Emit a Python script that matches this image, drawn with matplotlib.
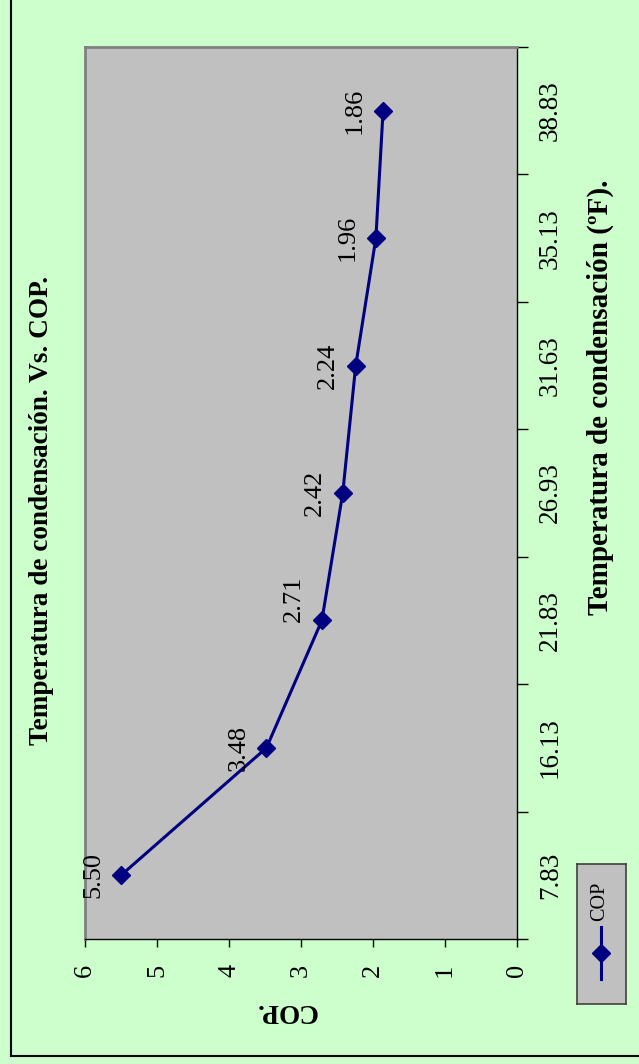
import numpy as np
import matplotlib
matplotlib.use("Agg")
import matplotlib.pyplot as plt
from matplotlib.lines import Line2D

plt.rcParams['font.family'] = ['Liberation Serif', 'DejaVu Serif']

# condensing temperature (ºF) and coefficient of performance
temps = ["7.83", "16.13", "21.83", "26.93", "31.63", "35.13", "38.83"]
cop = [5.50, 3.48, 2.71, 2.42, 2.24, 1.96, 1.86]
cop_ticks = [0, 1, 2, 3, 4, 5, 6]

W, H = 639, 1064
fig = plt.figure(figsize=(W / 100, H / 100), dpi=100, facecolor="#CCFFCC")

# whole chart is turned on its side: COP runs right-to-left along the bottom,
# the temperature categories run bottom-to-top on the right
ax = fig.add_axes([85 / W, 1 - 939 / H, (517 - 85) / W, (939 - 47) / H])
ax.set_facecolor("#C0C0C0")

pos = np.arange(len(temps)) + 0.5
ax.plot(cop, pos, color="#000080", lw=2.2, marker="D", ms=9, mfc="#000080", mec="#000080")

# value labels sit beside each point; the 21.83 one is pushed up off the line
nudge = {"21.83": 22}
for t, c, p in zip(temps, cop, pos):
    ax.annotate(f"{c:.2f}", (c, p), xytext=(-28, nudge.get(t, 0)), textcoords="offset pixels",
                rotation=90, ha="center", va="center", fontsize=19)

ax.set_xlim(6, 0)
ax.set_ylim(0, len(temps))

ax.set_xticks(cop_ticks)
ax.set_xticklabels([str(t) for t in cop_ticks])
ax.tick_params(axis="x", direction="out", length=6, width=1, pad=12, labelsize=19,
               labelrotation=90)

ax.yaxis.tick_right()
ax.set_yticks(np.arange(len(temps) + 1))
ax.set_yticks(pos, minor=True)
ax.set_yticklabels([])
ax.set_yticklabels(temps, minor=True)
ax.tick_params(axis="y", which="major", direction="out", length=8, width=1)
ax.tick_params(axis="y", which="minor", length=0, pad=15, labelsize=19.5)
for lab in ax.get_yticklabels(minor=True):
    lab.set_rotation(90)
    lab.set_va("center")

for s in ["left", "top"]:
    ax.spines[s].set_color("#808080")
    ax.spines[s].set_linewidth(2)
for s in ["right", "bottom"]:
    ax.spines[s].set_color("black")
    ax.spines[s].set_linewidth(1)

fig.text(42 / W, 1 - 510 / H, "Temperatura de condensación. Vs. COP.", rotation=90,
         ha="center", va="center", fontsize=19.6, fontweight="bold")
fig.text(600 / W, 1 - 397 / H, "Temperatura de condensación (ºF).", rotation=90,
         ha="center", va="center", fontsize=21, fontweight="bold")
fig.text(286 / W, 1 - 1011 / H, "COP.", rotation=180,
         ha="center", va="center", fontsize=19.6, fontweight="bold")

# legend box, drawn upright to follow the rotated layout
lg = fig.add_axes([577 / W, 1 - 1004 / H, 49 / W, 140 / H])
lg.set_facecolor("#C0C0C0")
lg.set_xlim(0, 1)
lg.set_ylim(0, 1)
lg.set_xticks([])
lg.set_yticks([])
for s in lg.spines.values():
    s.set_color("#404040")
    s.set_linewidth(1.2)
lg.plot([0.49, 0.49], [0.18, 0.55], color="#000080", lw=2.2)
lg.plot([0.49], [0.364], marker="D", ms=9, color="#000080")
lg.text(0.47, 0.73, "COP", rotation=90, ha="center", va="center", fontsize=14.5)

# chart frame (only left and bottom edges fall inside the image)
fig.add_artist(Line2D([11 / W, 11 / W], [1, 1 - 1056 / H], color="black", lw=1.5))
fig.add_artist(Line2D([11 / W, 1], [1 - 1056 / H, 1 - 1056 / H], color="black", lw=1.5))

fig.savefig("out.png", dpi=100, facecolor=fig.get_facecolor())
